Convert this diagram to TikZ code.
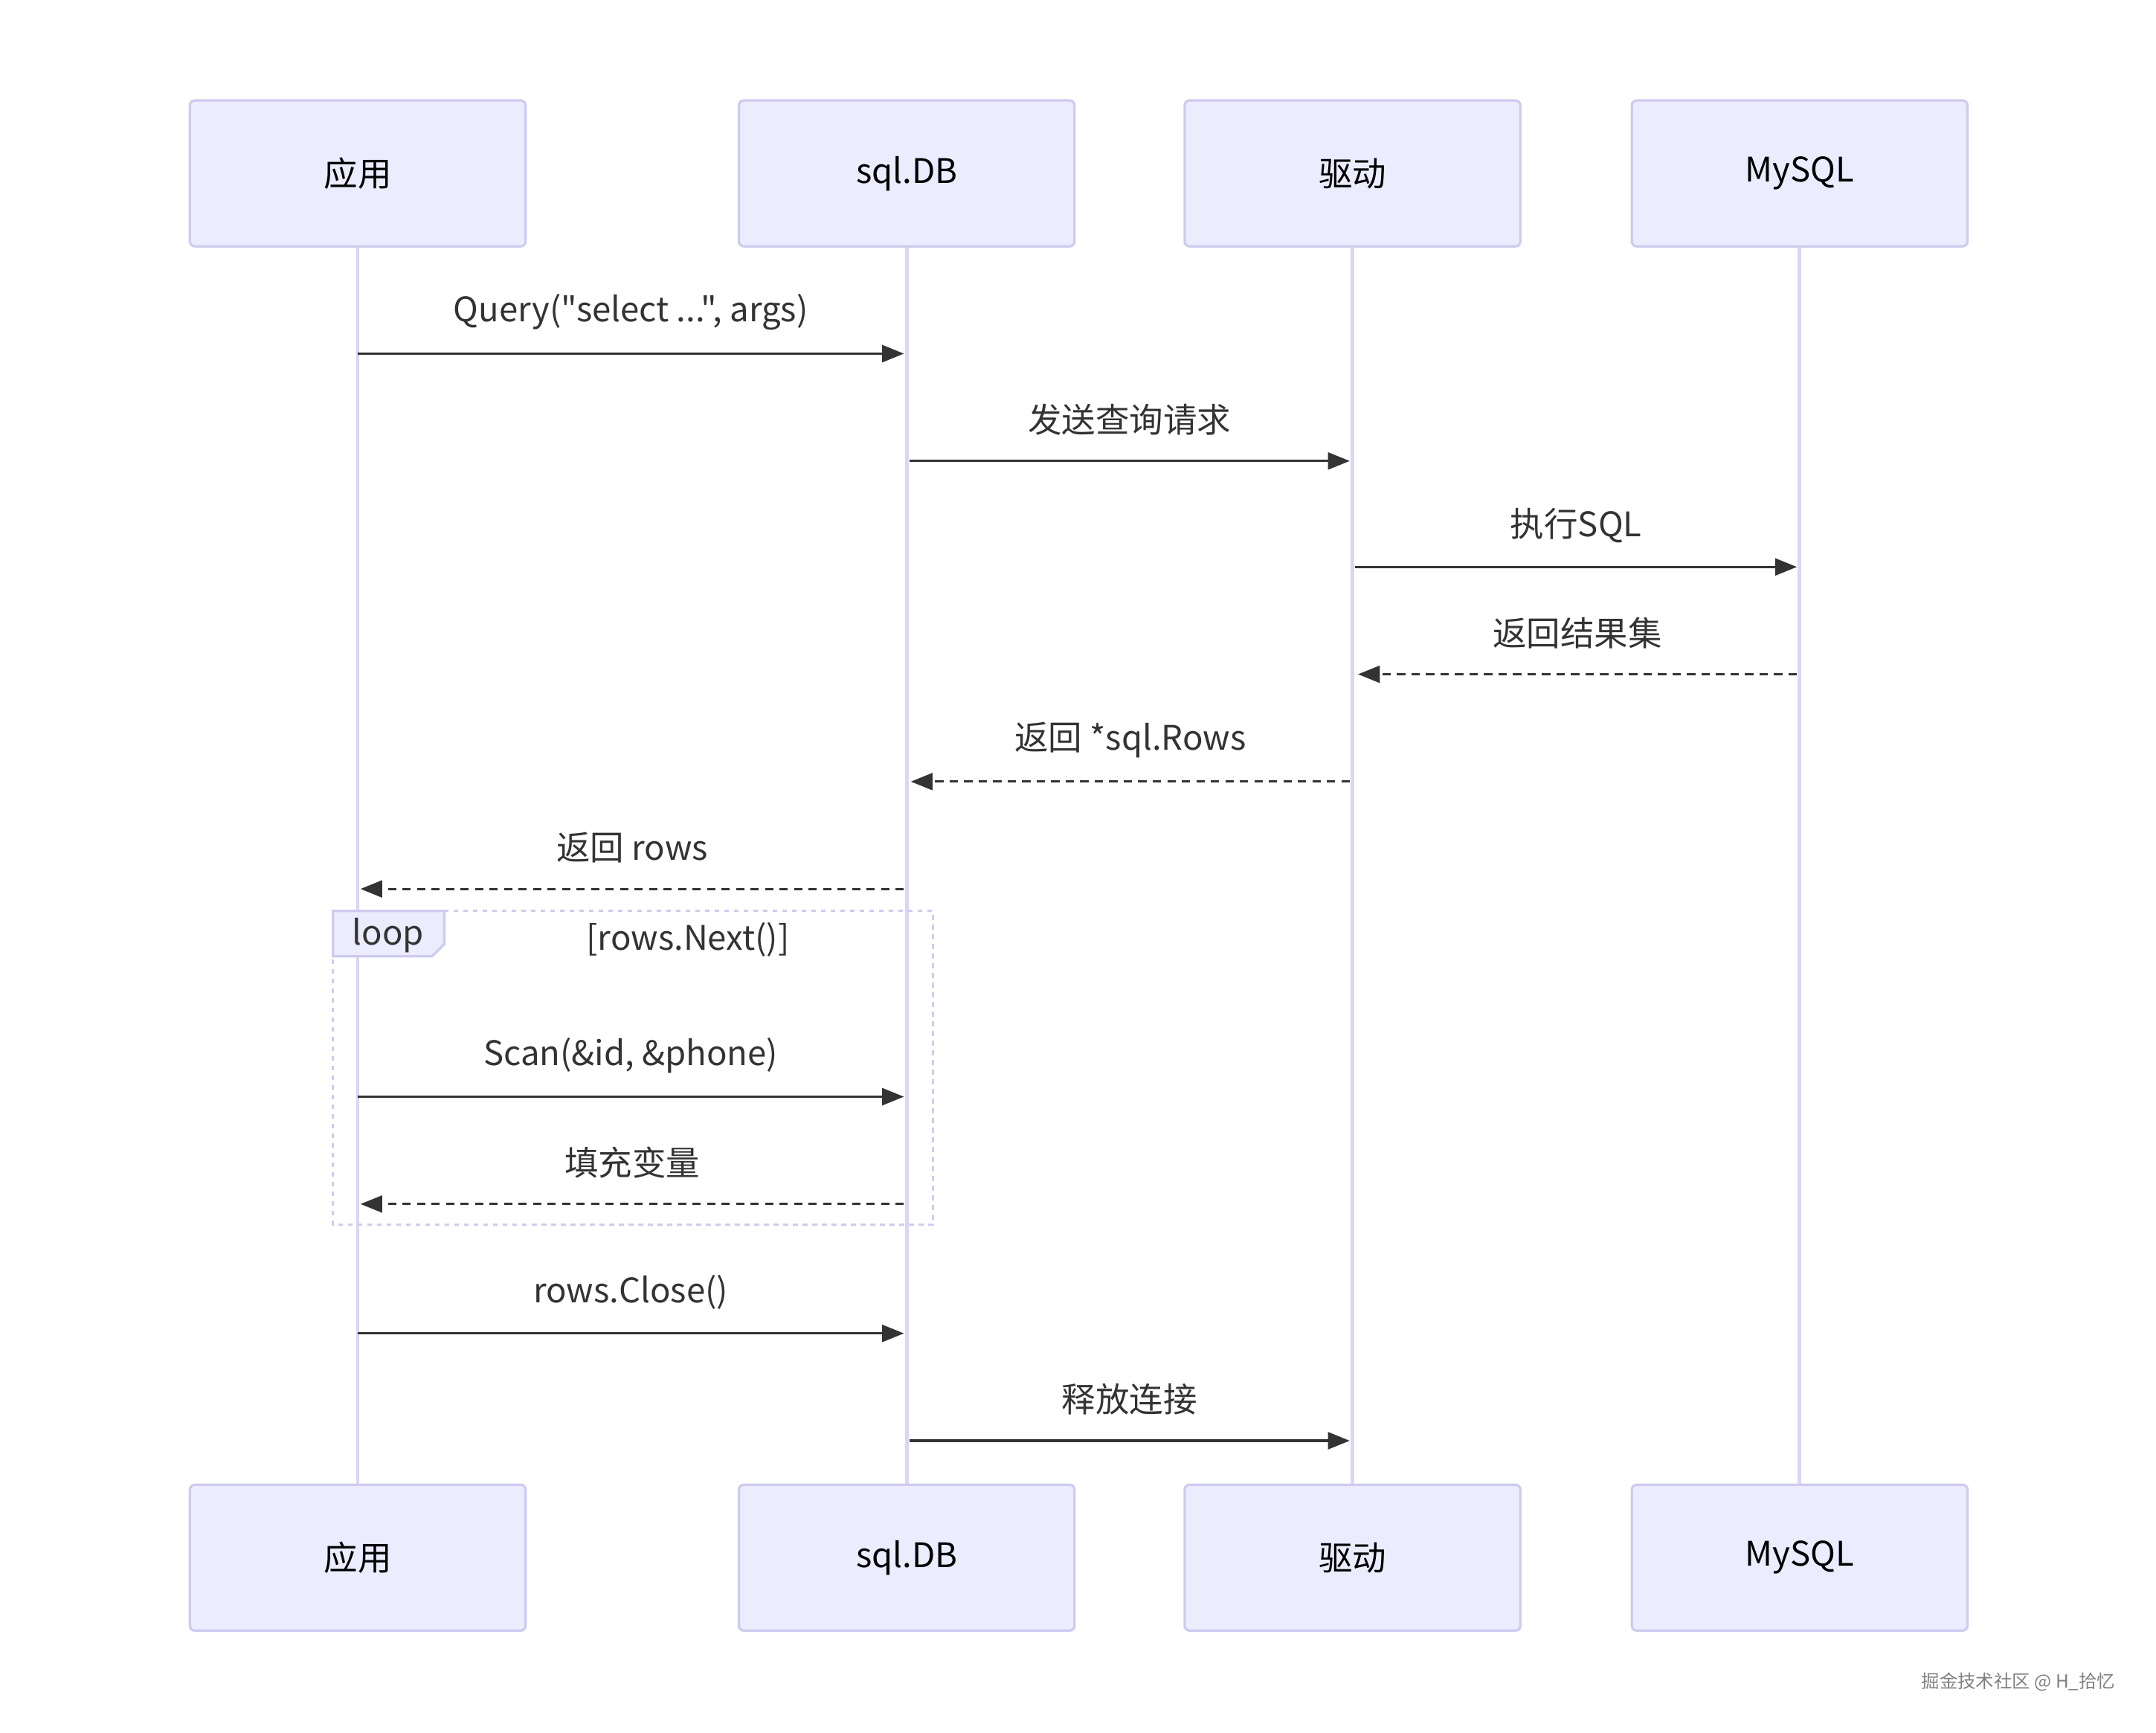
\documentclass[tikz,border=0pt]{standalone}
\usepackage{fontspec}
\setmainfont{Noto Sans CJK SC}[Ligatures=TeXOff]
\usetikzlibrary{arrows.meta,calc}
\definecolor{actfill}{HTML}{ECECFF}
\definecolor{actline}{HTML}{CFCBEF}
\definecolor{lifeln}{HTML}{DCD5F3}
\definecolor{msgcol}{HTML}{333333}
\tikzset{
  actor/.style={draw=actline, fill=actfill, rounded corners=2pt, line width=1pt, minimum width=4.88cm, minimum height=2.12cm, font=\fontsize{14}{16}\selectfont},
  msg/.style={draw=msgcol, line width=1pt, -{Triangle[length=9pt,width=7pt]}},
  reply/.style={msg, dash pattern=on 3.5pt off 2.5pt},
  lbl/.style={font=\fontsize{14}{16}\selectfont, text=msgcol}
}
\begin{document}
\begin{tikzpicture}[x=0.02cm,y=-0.02cm]
    \useasboundingbox (0,0) rectangle (1567,1259);
    % lifelines
    \foreach \n/\x in {app/260, db/659, drv/983, my/1308}{
      \draw[lifeln, line width=1.5pt] (\x,179) -- (\x,1080);
      \coordinate (\n) at (\x,0);
    }
    \node[actor] (appT) at (260,126) {应用};
    \node[actor] (dbT) at (659,126) {sql.DB};
    \node[actor] (drvT) at (983,126) {驱动};
    \node[actor] (myT) at (1308,126) {MySQL};
    \node[actor] (appB) at (260,1132) {应用};
    \node[actor] (dbB) at (659,1132) {sql.DB};
    \node[actor] (drvB) at (983,1132) {驱动};
    \node[actor] (myB) at (1308,1132) {MySQL};
    % loop frame
    \draw[actline, line width=1pt, dash pattern=on 2pt off 2pt] (242,662) rectangle (678,890);
    \draw[actline, fill=actfill, line width=1pt] (242,662) -- (323,662) -- (323,686) -- (314,695) -- (242,695) -- cycle;
    \node[lbl] (loopL) at (282,680) {loop};
    \node[lbl] (cond) at (500,683) {[rows.Next()]};
    % messages
    \foreach \a/\b/\y/\s/\t in {
      260/657/257/msg/{Query("select ...", args)},
      661/981/335/msg/{发送查询请求},
      985/1306/412/msg/{执行SQL},
      1306/987/490/reply/{返回结果集},
      981/662/568/reply/{返回 *sql.Rows},
      657/262/646/reply/{返回 rows},
      260/657/797/msg/{Scan(\&id, \&phone)},
      657/262/875/reply/{填充变量},
      260/657/969/msg/{rows.Close()},
      661/981/1047/msg/{释放连接}}{
      \coordinate (s) at (\a,\y);
      \coordinate (e) at (\b,\y);
      \draw[\s] (s) -- (e);
      \node[lbl] at ($(s)!0.5!(e)+(0,-30)$) {\t};
    }
    \node[font=\fontsize{7.5}{9}\selectfont, text=gray] (mark) at (1467,1222) {掘金技术社区 @ H\_拾忆};
  \end{tikzpicture}
\end{document}
